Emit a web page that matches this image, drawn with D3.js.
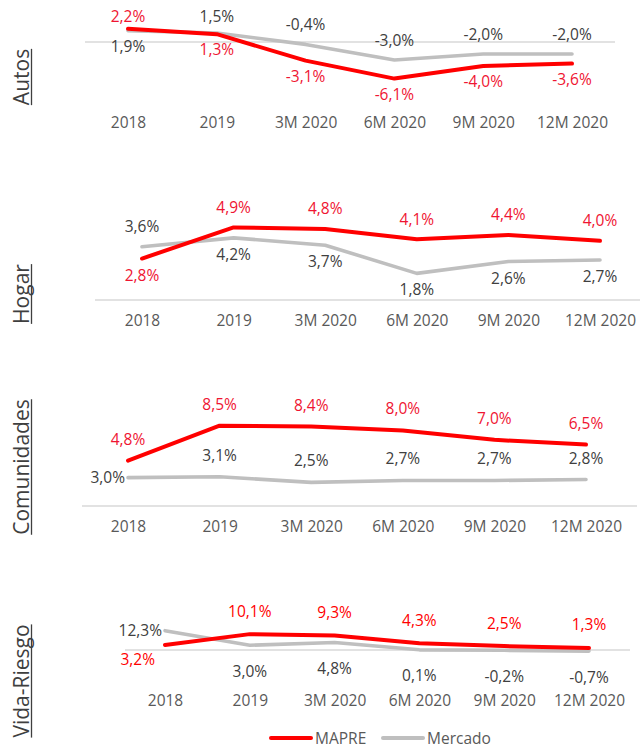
<!DOCTYPE html>
<html>
<head>
<meta charset="utf-8">
<script src="https://cdn.jsdelivr.net/npm/d3@7"></script>
<style>
  body { margin: 0; background: #fff; }
  svg { display: block; font-family: "Open Sans", sans-serif; }
</style>
</head>
<body>
<div id="chart"></div>
<script>
// categories + values
const categories = ["2018", "2019", "3M 2020", "6M 2020", "9M 2020", "12M 2020"];

const autosMapfre = [2.2, 1.3, -3.1, -6.1, -4.0, -3.6];
const autosMercado = [1.9, 1.5, -0.4, -3.0, -2.0, -2.0];
const hogarMapfre = [2.8, 4.9, 4.8, 4.1, 4.4, 4.0];
const hogarMercado = [3.6, 4.2, 3.7, 1.8, 2.6, 2.7];
const comunidadesMapfre = [4.8, 8.5, 8.4, 8.0, 7.0, 6.5];
const comunidadesMercado = [3.0, 3.1, 2.5, 2.7, 2.7, 2.8];
const vidaMapfre = [3.2, 10.1, 9.3, 4.3, 2.5, 1.3];
const vidaMercado = [12.3, 3.0, 4.8, 0.1, -0.2, -0.7];

const seriesNames = ["MAPRE", "Mercado"];

const width = 644;
const height = 747;
const red = "#ff0000";
const grey = "#bfbfbf";
const fontSize = 15.5;

const locale = d3.formatLocale({
  decimal: ",",
  thousands: ".",
  grouping: [3],
  currency: ["", "€"],
  minus: "-"
});
const pct = (v) => locale.format(".1f")(v) + "%";

// layout of each small chart
const panels = [
  {
    title: "Autos", mapfre: autosMapfre, mercado: autosMercado,
    domain: [-10, 4], yRange: [102, 18], xRange: [128, 572], grid: [85, 615],
    titleY: 77, above: -20, below: 15.5, top: 16, redText: "#ef1532",
    mapfrePos: ["t", "b", "b", "b", "b", "b"],
    mercadoPos: ["b", "t", "t", "t", "t", "t"]
  },
  {
    title: "Hogar", mapfre: hogarMapfre, mercado: hogarMercado,
    domain: [0, 6], yRange: [300, 211.2], xRange: [142, 600], grid: [95, 640],
    titleY: 294, above: -20, below: 16.5, redText: "#ef1532",
    mapfrePos: ["b", "t", "t", "t", "t", "t"],
    mercadoPos: ["t", "b", "b", "b", "b", "b"]
  },
  {
    title: "Comunidades", mapfre: comunidadesMapfre, mercado: comunidadesMercado,
    domain: [0, 10], yRange: [506, 411.5], xRange: [128, 586], grid: [82, 637],
    titleY: 467, above: -21.5, below: 16, redText: "#ef1532",
    mapfrePos: ["t", "t", "t", "t", "t", "t"],
    mercadoPos: ["l", "t", "t", "t", "t", "t"]
  },
  {
    title: "Vida-Riesgo", mapfre: vidaMapfre, mercado: vidaMercado,
    domain: [-19, 15], yRange: [679.8, 626.45], xRange: [165, 589], grid: [125, 630],
    titleY: 681, above: -23, below: 26, redText: "#ff0000",
    mapfrePos: ["bl", "t", "t", "t", "t", "t"],
    mercadoPos: ["l", "b", "b", "b", "b", "b"]
  }
];

const svg = d3.select("#chart")
  .append("svg")
  .attr("width", width)
  .attr("height", height);

panels.forEach(function (p) {
  const x = d3.scalePoint().domain(categories).range(p.xRange);
  const y = d3.scaleLinear().domain(p.domain).range(p.yRange);
  const g = svg.append("g");

  // zero line
  g.append("line")
    .attr("x1", p.grid[0]).attr("x2", p.grid[1])
    .attr("y1", y(0)).attr("y2", y(0))
    .attr("stroke", "#d9d9d9")
    .attr("stroke-width", 1.5);

  // category labels at the bottom of the plot
  const xAxis = g.append("g")
    .attr("transform", "translate(0," + (y.range()[0] + 26) + ")")
    .call(d3.axisBottom(x).tickSize(0).tickPadding(0));
  xAxis.select(".domain").remove();
  xAxis.selectAll("text")
    .attr("dy", 0)
    .attr("fill", "#595959")
    .style("font-size", fontSize + "px")
    .style("font-family", "'Open Sans', sans-serif");

  const line = d3.line()
    .x((d, i) => x(categories[i]))
    .y((d) => y(d));

  g.append("path")
    .datum(p.mercado)
    .attr("fill", "none")
    .attr("stroke", grey)
    .attr("stroke-width", 3.6)
    .attr("stroke-linejoin", "round")
    .attr("stroke-linecap", "round")
    .attr("d", line);

  g.append("path")
    .datum(p.mapfre)
    .attr("fill", "none")
    .attr("stroke", red)
    .attr("stroke-width", 4)
    .attr("stroke-linejoin", "round")
    .attr("stroke-linecap", "round")
    .attr("d", line);

  // data labels
  function addLabels(values, places, color) {
    values.forEach(function (v, i) {
      const px = x(categories[i]);
      const py = y(v);
      let cx = px, cy = py, anchor = "middle";
      const pos = places[i];
      if (pos === "t") cy = py + p.above;
      if (pos === "b") cy = py + p.below;
      if (pos === "l") { cx = px - 3; anchor = "end"; }
      if (pos === "bl") { cx = px - 10; cy = py + 15; anchor = "end"; }
      if (p.top !== undefined && cy < p.top) cy = p.top;
      g.append("text")
        .attr("x", cx)
        .attr("y", cy + 5.5)
        .attr("text-anchor", anchor)
        .attr("fill", color)
        .style("font-size", fontSize + "px")
        .text(pct(v));
    });
  }
  addLabels(p.mercado, p.mercadoPos, "#404040");
  addLabels(p.mapfre, p.mapfrePos, p.redText);

  // vertical underlined title
  const tg = g.append("g")
    .attr("transform", "translate(29," + p.titleY + ") rotate(-90)");
  const t = tg.append("text")
    .attr("text-anchor", "middle")
    .attr("fill", "#3f3f3f")
    .style("font-size", "21px")
    .text(p.title);
  const len = t.node().getComputedTextLength();
  tg.append("line")
    .attr("x1", -len / 2).attr("x2", len / 2)
    .attr("y1", 2.5).attr("y2", 2.5)
    .attr("stroke", "#3f3f3f")
    .attr("stroke-width", 1.3);
});

// legend
const legend = svg.append("g").attr("transform", "translate(0,738)");
const legendItems = [
  { name: seriesNames[0], color: red, x: 271 },
  { name: seriesNames[1], color: grey, x: 383 }
];
legendItems.forEach(function (d) {
  legend.append("line")
    .attr("x1", d.x).attr("x2", d.x + 40)
    .attr("y1", 0).attr("y2", 0)
    .attr("stroke", d.color)
    .attr("stroke-width", 4)
    .attr("stroke-linecap", "round");
  legend.append("text")
    .attr("x", d.x + 44)
    .attr("y", 5.5)
    .attr("fill", "#595959")
    .style("font-size", fontSize + "px")
    .text(d.name);
});
</script>
</body>
</html>
